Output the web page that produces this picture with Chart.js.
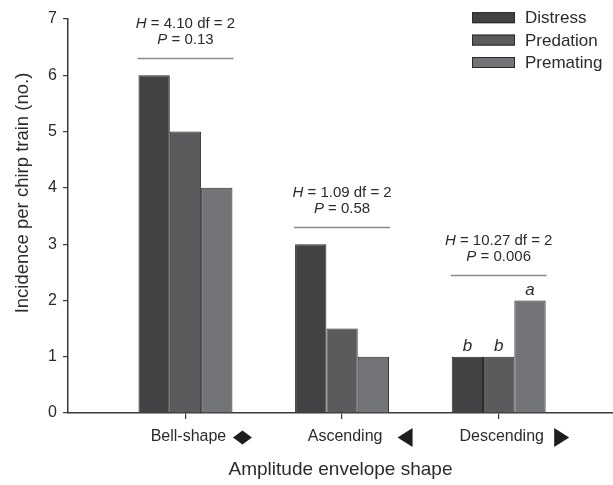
<!DOCTYPE html>
<html>
<head>
<meta charset="utf-8">
<script src="https://cdn.jsdelivr.net/npm/chart.js@4.4.1/dist/chart.umd.min.js"></script>
<style>
  html, body { margin: 0; padding: 0; background: #fff; }
  #wrap { position: relative; width: 613px; height: 485px; }
</style>
</head>
<body>
<div id="wrap"><canvas id="chart"></canvas></div>
<script>
// data
const categories = ["Bell-shape", "Ascending", "Descending"];
const markers = ["diamond", "left", "right"];
const seriesNames = ["Distress", "Predation", "Premating"];
const distress = [6, 3, 1];
const predation = [5, 1.5, 1];
const premating = [4, 1, 2];
const statH = ["4.10", "1.09", "10.27"];
const statDf = ["2", "2", "2"];
const statP = ["0.13", "0.58", "0.006"];
const distressLetters = ["", "", "b"];
const predationLetters = ["", "", "b"];
const prematingLetters = ["", "", "a"];
const yTicks = [0, 1, 2, 3, 4, 5, 6, 7];

const FONT = '"Liberation Sans", Arial, Helvetica, sans-serif';
const TEXT = "#2b2b2b";
const AXIS = "#3a3a3a";
const colors = ["#424244", "#5b5b5e", "#737477"];
const edge = "#2a2a2a";

const letters = [distressLetters, predationLetters, prematingLetters];

function toPoints(arr) {
	return arr.map((v, i) => ({ x: i, y: v }));
}

function drawMixed(ctx, parts, cx, cy, size) {
	let total = 0;
	parts.forEach((p) => {
		ctx.font = (p.italic ? "italic " : "") + size + "px " + FONT;
		p.w = ctx.measureText(p.t).width;
		total += p.w;
	});
	let x = cx - total / 2;
	ctx.textAlign = "left";
	ctx.textBaseline = "middle";
	parts.forEach((p) => {
		ctx.font = (p.italic ? "italic " : "") + size + "px " + FONT;
		ctx.fillText(p.t, x, cy);
		x += p.w;
	});
}

const extras = {
	id: "extras",
	afterDraw(chart) {
		const ctx = chart.ctx;
		const xs = chart.scales.x;
		ctx.save();
		ctx.fillStyle = TEXT;

		// y axis title
		ctx.save();
		ctx.translate(22.5, 193);
		ctx.rotate(-Math.PI / 2);
		ctx.font = "18.5px " + FONT;
		ctx.textAlign = "center";
		ctx.textBaseline = "middle";
		ctx.fillText("Incidence per chirp train (no.)", 0, 0);
		ctx.restore();

		// legend
		seriesNames.forEach((name, k) => {
			const cy = 17.7 + k * 22.4;
			ctx.fillStyle = colors[k];
			ctx.fillRect(472, cy - 5.5, 43, 11);
			ctx.strokeStyle = edge;
			ctx.lineWidth = 1;
			ctx.strokeRect(472.5, cy - 5, 42, 10);
			ctx.fillStyle = TEXT;
			ctx.font = "17px " + FONT;
			ctx.textAlign = "left";
			ctx.textBaseline = "middle";
			ctx.fillText(name, 525, cy + 1);
		});

		// stats, letters, shape markers
		categories.forEach((c, i) => {
			let left = Infinity, right = -Infinity, top = Infinity, hasLetter = false;
			seriesNames.forEach((s, d) => {
				const el = chart.getDatasetMeta(d).data[i];
				left = Math.min(left, el.x - el.width / 2);
				right = Math.max(right, el.x + el.width / 2);
				top = Math.min(top, el.y);
				if (letters[d][i]) {
					hasLetter = true;
					ctx.fillStyle = TEXT;
					ctx.font = "italic 17px " + FONT;
					ctx.textAlign = "center";
					ctx.textBaseline = "middle";
					ctx.fillText(letters[d][i], el.x, el.y - 10);
				}
			});
			const lineY = Math.round(top - (hasLetter ? 25 : 17)) + 0.5;
			ctx.strokeStyle = "#8c8c8c";
			ctx.lineWidth = 1.5;
			ctx.beginPath();
			ctx.moveTo(left - 1, lineY);
			ctx.lineTo(right + 1, lineY);
			ctx.stroke();

			const cx = xs.getPixelForValue(i);
			ctx.fillStyle = TEXT;
			drawMixed(ctx, [{ t: "H", italic: true }, { t: " = " + statH[i] + " df = " + statDf[i] }], cx, lineY - 35, 15);
			drawMixed(ctx, [{ t: "P", italic: true }, { t: " = " + statP[i] }], cx, lineY - 19, 15);

			// marker next to tick label
			const my = 437.5;
			ctx.fillStyle = "#1e1e1e";
			ctx.beginPath();
			if (markers[i] === "diamond") {
				const mx = cx + 57;
				ctx.moveTo(mx - 9.5, my);
				ctx.lineTo(mx, my - 7);
				ctx.lineTo(mx + 9.5, my);
				ctx.lineTo(mx, my + 7);
			} else if (markers[i] === "left") {
				const mx = cx + 63;
				ctx.moveTo(mx - 7.5, my);
				ctx.lineTo(mx + 7.5, my - 9.5);
				ctx.lineTo(mx + 7.5, my + 9.5);
			} else {
				const mx = cx + 63;
				ctx.moveTo(mx + 7.5, my);
				ctx.lineTo(mx - 7.5, my - 9.5);
				ctx.lineTo(mx - 7.5, my + 9.5);
			}
			ctx.closePath();
			ctx.fill();
		});
		ctx.restore();
	},
};

const data = {
	datasets: seriesNames.map((name, k) => ({
		label: name,
		data: toPoints([distress, predation, premating][k]),
		backgroundColor: colors[k],
		borderColor: edge,
		borderWidth: 1,
		categoryPercentage: 0.6,
		barPercentage: 1,
	})),
};

const options = {
	responsive: true,
	maintainAspectRatio: false,
	animation: false,
	layout: { padding: { top: 19, right: 0, left: 0, bottom: 0 } },
	plugins: {
		legend: { display: false },
		tooltip: { enabled: false },
	},
	scales: {
		x: {
			type: "linear",
			offset: false,
			min: -0.75,
			max: 2.73,
			afterBuildTicks: (scale) => {
				scale.ticks = categories.map((c, i) => ({ value: i }));
			},
			afterFit: (scale) => {
				scale.height = 72;
			},
			ticks: {
				autoSkip: false,
				maxRotation: 0,
				padding: 8,
				labelOffset: 3,
				color: TEXT,
				font: { family: FONT, size: 16 },
				callback: (v) => categories[v] || "",
			},
			grid: {
				display: true,
				offset: false,
				drawOnChartArea: false,
				drawTicks: true,
				tickLength: 6,
				color: AXIS,
				lineWidth: 1.2,
			},
			border: { display: true, color: AXIS, width: 1.5 },
			title: {
				display: true,
				text: "Amplitude envelope shape",
				color: TEXT,
				font: { family: FONT, size: 19 },
				padding: { top: 0, bottom: 4 },
			},
		},
		y: {
			min: 0,
			max: 7,
			afterBuildTicks: (scale) => {
				scale.ticks = yTicks.map((v) => ({ value: v }));
			},
			afterFit: (scale) => {
				scale.width = 68;
			},
			ticks: {
				padding: 6,
				color: TEXT,
				font: { family: FONT, size: 16 },
			},
			grid: {
				display: true,
				drawOnChartArea: false,
				drawTicks: true,
				tickLength: 5,
				color: AXIS,
				lineWidth: 1.2,
			},
			border: { display: true, color: AXIS, width: 1.5 },
		},
	},
};

new Chart(document.getElementById("chart").getContext("2d"), {
	type: "bar",
	data,
	options,
	plugins: [extras],
});
</script>
</body>
</html>
